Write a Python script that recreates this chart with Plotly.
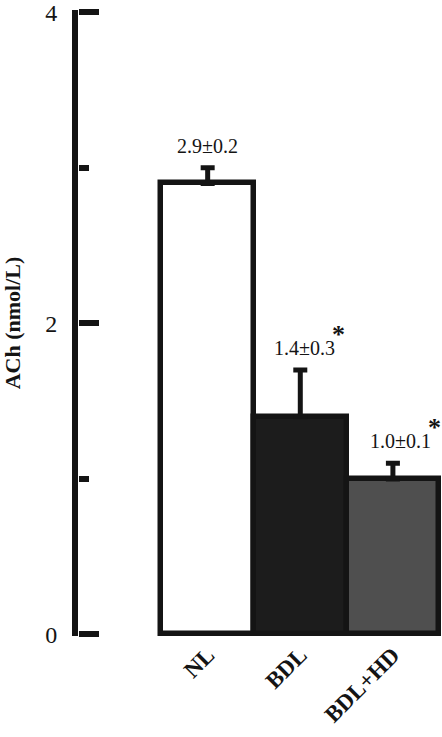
import plotly.graph_objects as go

groups = ["NL", "BDL", "BDL+HD"]
ach_mean = [2.9, 1.4, 1.0]
err_up = [0.1, 0.3, 0.1]
value_labels = ["2.9±0.2", "1.4±0.3", "1.0±0.1"]
significant = [False, True, True]
bar_colors = ["#ffffff", "#1c1c1c", "#4f4f4f"]

major_ticks = [0, 2, 4]
minor_ticks = [1, 3]

ink = "#141414"
serif = "Liberation Serif, Times New Roman, serif"
xpos = list(range(len(groups)))
yrange = [-0.01, 4.015]

fig = go.Figure()
fig.add_trace(go.Bar(
    x=xpos, y=ach_mean, width=1.0,
    marker=dict(color=bar_colors, line=dict(color=ink, width=5.5)),
    error_y=dict(type="data", array=err_up, arrayminus=[0] * len(err_up),
                 symmetric=False, color=ink, thickness=5, width=7),
    showlegend=False,
))
# invisible trace so the tick-only axis gets drawn
fig.add_trace(go.Scatter(x=[xpos[0]], y=[0], yaxis="y2", mode="markers",
                         marker=dict(opacity=0), hoverinfo="skip", showlegend=False))

# value labels + significance stars
for i, (m, e, txt, sig) in enumerate(zip(ach_mean, err_up, value_labels, significant)):
    fig.add_annotation(x=xpos[i], y=m + e, text=txt, showarrow=False,
                       yanchor="bottom", yshift=9, xshift=4 * i,
                       font=dict(family=serif, size=20, color=ink))
    if sig:
        fig.add_annotation(x=xpos[i], y=m + e, text="<b>*</b>", showarrow=False,
                           yanchor="bottom", yshift=19, xshift=4 * i + 34,
                           font=dict(family=serif, size=26, color=ink))

fig.update_layout(
    width=442, height=737,
    margin=dict(l=78, r=0, t=10, b=101, autoexpand=False),
    paper_bgcolor="white", plot_bgcolor="white",
    font=dict(family=serif, color=ink),
    bargap=0,
    xaxis=dict(
        range=[-1.4, 2.53], tickvals=xpos, automargin=False,
        ticktext=[f"<b>{g}</b>" for g in groups],
        tickangle=-45, tickfont=dict(family=serif, size=23, color=ink),
        showline=False, showgrid=False, zeroline=False, ticks="",
    ),
    yaxis=dict(
        range=yrange, tickvals=major_ticks, automargin=False,
        showline=True, linecolor=ink, linewidth=6, ticks="",
        tickfont=dict(family=serif, size=24, color=ink), ticklabelstandoff=10,
        ticklabeloverflow="allow",
        showgrid=False, zeroline=False,
        title=dict(text="<b>ACh (nmol/L)</b>",
                   font=dict(family=serif, size=22, color=ink), standoff=40),
    ),
    # tick marks pointing into the plot, drawn by a mirror axis on the left edge
    yaxis2=dict(
        range=yrange, overlaying="y", side="right", anchor="free", position=0,
        tickvals=major_ticks, ticks="outside", ticklen=20, tickwidth=6,
        tickcolor=ink, showticklabels=False, showline=False,
        minor=dict(tickvals=minor_ticks, ticks="outside", ticklen=10,
                   tickwidth=6, tickcolor=ink),
        showgrid=False, zeroline=False, automargin=False,
    ),
)

fig.write_html("out.html", config={"displayModeBar": False},
               post_script="document.body.style.margin='0';document.body.style.overflow='hidden';")
